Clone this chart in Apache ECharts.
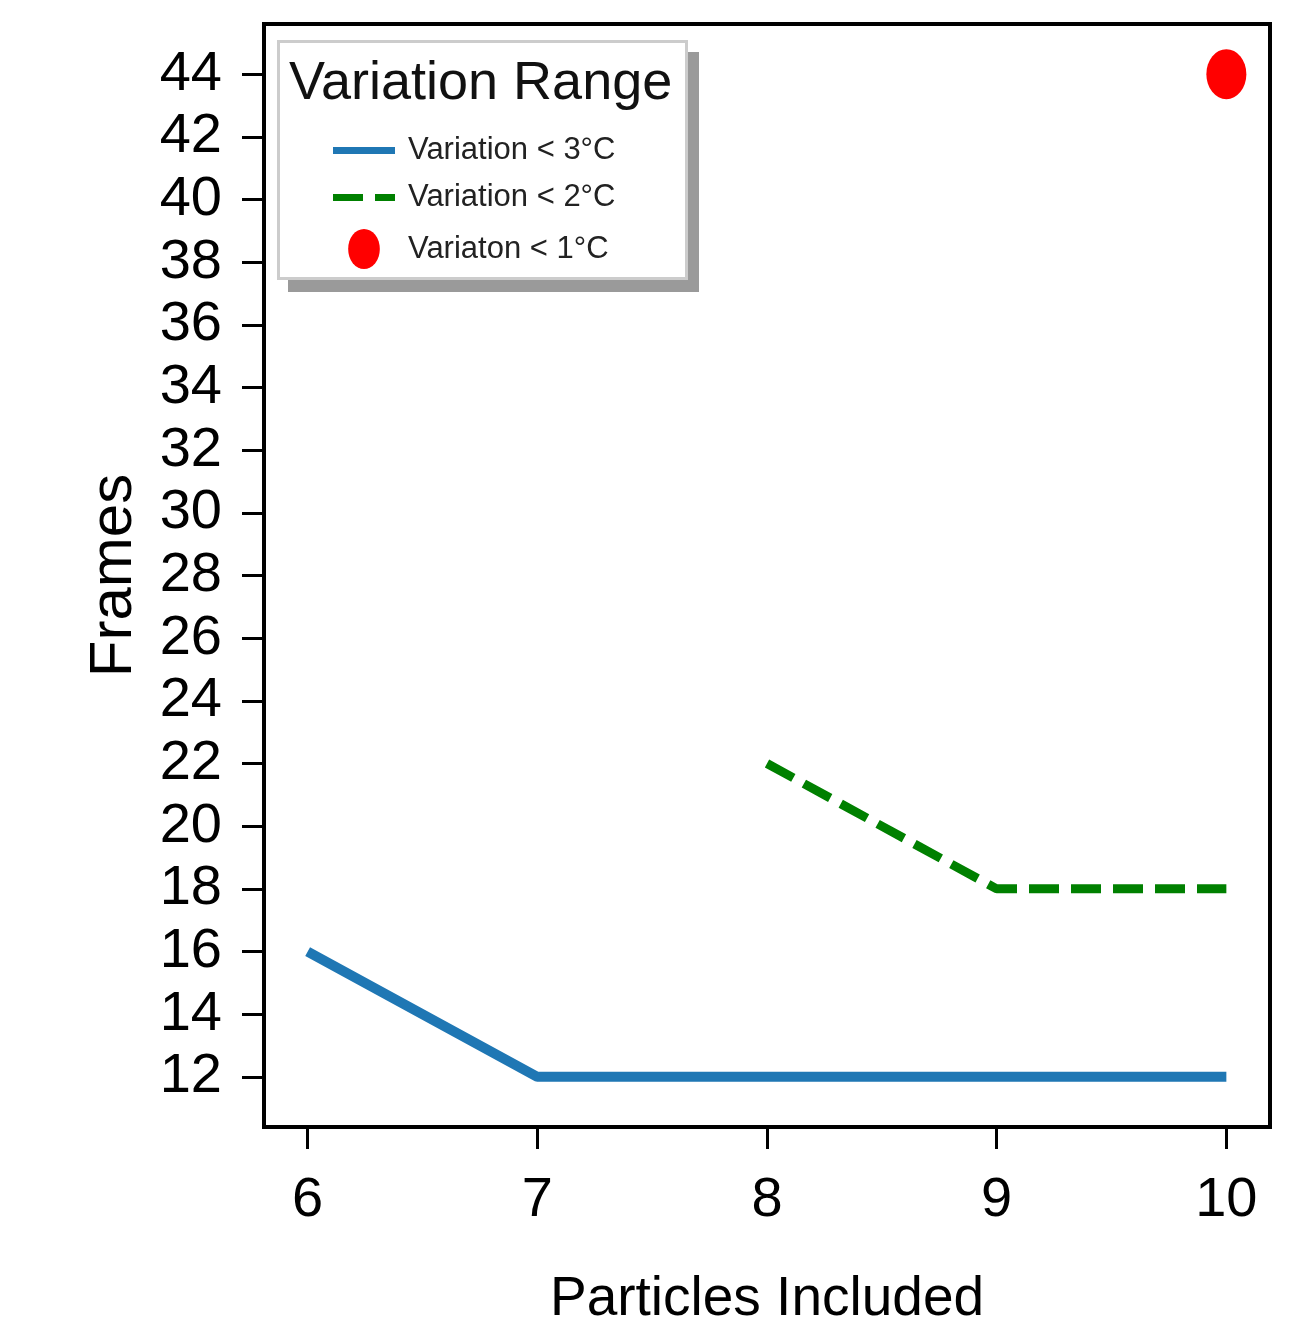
<!DOCTYPE html>
<html>
<head>
<meta charset="utf-8">
<script src="https://cdn.jsdelivr.net/npm/echarts@6/dist/echarts.min.js"></script>
<style>
html,body{margin:0;padding:0;background:#fff;overflow:hidden;}
#chart{width:1300px;height:1333px;}
</style>
</head>
<body>
<div id="chart"></div>
<script>
// ---- data ----
const xTicks = [6, 7, 8, 9, 10];
const yTicks = [12, 14, 16, 18, 20, 22, 24, 26, 28, 30, 32, 34, 36, 38, 40, 42, 44];
const var3X = [6, 7, 8, 9, 10];
const var3Y = [16, 12, 12, 12, 12];
const var2X = [8, 9, 10];
const var2Y = [22, 18, 18];
const var1X = [10];
const var1Y = [44];
const seriesNames = ['Variation < 3°C', 'Variation < 2°C', 'Variaton < 1°C'];
const legendTitle = 'Variation Range';
const xName = 'Particles Included';
const yName = 'Frames';

const FONT = "'Liberation Sans', Arial, sans-serif";
const ELLIPSE = 'path://M19,0 A19,24 0 1,1 19,48 A19,24 0 1,1 19,0 Z';
const SOLID_HANDLE = 'path://M0,0 h62 v7 h-62 Z';
const DASH_HANDLE = 'path://M0,0 h30 v7 h-30 Z M42,0 h20 v7 h-20 Z';

const zip = (xs, ys) => xs.map((x, i) => [x, ys[i]]);

const chart = echarts.init(document.getElementById('chart'), null, {renderer: 'canvas'});
chart.setOption({
  animation: false,
  backgroundColor: '#fff',
  grid: {left: 264, right: 30, top: 24, bottom: 206, outerBoundsMode: 'none', containLabel: false,
         show: true, borderColor: '#000', borderWidth: 4, backgroundColor: 'transparent'},
  xAxis: {
    type: 'value', min: 5.81, max: 10.19,
    name: xName, nameLocation: 'middle', nameGap: 145,
    nameTextStyle: {fontFamily: FONT, fontSize: 55, color: '#000'},
    axisLine: {show: true, lineStyle: {color: '#000', width: 4}},
    axisTick: {show: true, length: 22, lineStyle: {color: '#000', width: 3}, customValues: xTicks},
    axisLabel: {fontFamily: FONT, fontSize: 56, color: '#000', margin: 46, customValues: xTicks},
    splitLine: {show: false}
  },
  yAxis: {
    type: 'value', min: 10.4, max: 45.6,
    name: yName, nameLocation: 'middle', nameGap: 120,
    nameTextStyle: {fontFamily: FONT, fontSize: 60, color: '#000'},
    axisLine: {show: true, lineStyle: {color: '#000', width: 4}},
    axisTick: {show: true, length: 22, lineStyle: {color: '#000', width: 3}, customValues: yTicks},
    axisLabel: {fontFamily: FONT, fontSize: 56, color: '#000', margin: 42, customValues: yTicks},
    splitLine: {show: false}
  },
  legend: {
    left: 277, top: 40, orient: 'vertical', z: 10,
    padding: [95, 0, 0, 56],
    itemWidth: 62, itemHeight: 40, itemGap: 16,
    backgroundColor: 'transparent', borderWidth: 0,
    textStyle: {fontFamily: FONT, fontSize: 31, color: '#222', padding: [0, 0, 0, 8]},
    data: [
      {name: seriesNames[0], icon: SOLID_HANDLE},
      {name: seriesNames[1], icon: DASH_HANDLE},
      {name: seriesNames[2], icon: ELLIPSE}
    ]
  },
  graphic: [
    {type: 'rect', z: 5, shape: {x: 288, y: 52, width: 411, height: 240},
     style: {fill: '#9a9a9a'}},
    {type: 'rect', z: 6, shape: {x: 278.5, y: 41.5, width: 408, height: 237},
     style: {fill: '#ffffff', stroke: '#cccccc', lineWidth: 3}},
    {type: 'text', left: 289, top: 57, z: 11,
     style: {text: legendTitle, font: "54px " + FONT, fill: '#111'}}
  ],
  series: [
    {name: seriesNames[0], type: 'line', data: zip(var3X, var3Y), symbol: 'none', showSymbol: false,
     lineStyle: {color: '#1f77b4', width: 10}, itemStyle: {color: '#1f77b4'}, z: 3},
    {name: seriesNames[1], type: 'line', data: zip(var2X, var2Y), symbol: 'none', showSymbol: false,
     lineStyle: {color: '#008000', width: 9, type: [30, 12]}, itemStyle: {color: '#008000'}, z: 3},
    {name: seriesNames[2], type: 'scatter', data: zip(var1X, var1Y), symbol: ELLIPSE, symbolSize: [40, 50],
     itemStyle: {color: '#ff0000', opacity: 1}, z: 4}
  ]
});
</script>
</body>
</html>
